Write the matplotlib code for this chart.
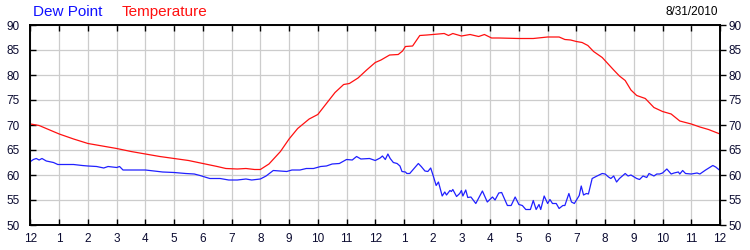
import matplotlib
matplotlib.use("Agg")
import matplotlib.pyplot as plt

temp_hours = [0, 0.3, 1.0, 1.5, 2.0, 2.5, 3.0, 3.5, 4.0, 4.5, 5.0, 5.5, 6.0, 6.5, 6.8, 7.2, 7.5, 7.8, 8.0,
              8.3, 8.7, 9.0, 9.3, 9.7, 10.0, 10.3, 10.6, 10.9, 11.1, 11.4, 11.7, 12.0, 12.2, 12.5, 12.8,
              12.95, 13.05, 13.3, 13.55, 13.8, 14.0, 14.4, 14.55, 14.7, 15.0, 15.3, 15.6, 15.8, 16.05,
              16.3, 17.0, 17.5, 18.0, 18.4, 18.6, 18.8, 19.0, 19.2, 19.4, 19.6, 19.9, 20.3, 20.5, 20.7,
              20.9, 21.1, 21.4, 21.7, 22.0, 22.3, 22.6, 23.0, 23.3, 23.6, 24.0]
temp_vals = [70.2, 69.9, 68.2, 67.2, 66.3, 65.8, 65.3, 64.7, 64.2, 63.7, 63.3, 62.9, 62.3, 61.7, 61.3, 61.2,
             61.3, 61.1, 61.1, 62.2, 64.7, 67.2, 69.3, 71.2, 72.1, 74.3, 76.5, 78.1, 78.3, 79.4, 81.0,
             82.5, 83.0, 84.0, 84.1, 84.8, 85.7, 85.8, 87.9, 88.0, 88.1, 88.3, 87.9, 88.3, 87.8, 88.1,
             87.7, 88.1, 87.4, 87.4, 87.3, 87.3, 87.6, 87.6, 87.1, 87.0, 86.7, 86.5, 85.9, 84.7, 83.5,
             81.0, 79.8, 78.9, 77.0, 75.9, 75.3, 73.5, 72.7, 72.2, 70.8, 70.2, 69.6, 69.1, 68.2]

dew_hours = [0.0, 0.1, 0.2, 0.3, 0.4, 0.55, 0.8, 0.95, 1.5, 1.8, 2.0, 2.3, 2.55, 2.7, 3.0, 3.1, 3.22, 3.6,
             4.0, 4.3, 4.6, 5.0, 5.4, 5.7, 5.9, 6.24, 6.6, 6.9, 7.2, 7.5, 7.7, 8.0, 8.2, 8.45, 8.7, 8.92,
             9.1, 9.38, 9.6, 9.85, 10.1, 10.3, 10.5, 10.75, 11.0, 11.2, 11.35, 11.5, 11.8, 12.0, 12.17,
             12.25, 12.35, 12.44, 12.52, 12.63, 12.76, 12.86, 12.93, 13.05, 13.1, 13.2, 13.5, 13.6,
             13.73, 13.83, 13.93, 14.02, 14.12, 14.2, 14.33, 14.42, 14.48, 14.6, 14.65, 14.7, 14.83,
             14.94, 15.0, 15.05, 15.15, 15.22, 15.33, 15.5, 15.73, 15.9, 16.08, 16.17, 16.3, 16.4,
             16.6, 16.73, 16.87, 17.0, 17.12, 17.24, 17.4, 17.5, 17.6, 17.7, 17.76, 17.88, 18.0,
             18.08, 18.17, 18.3, 18.4, 18.53, 18.6, 18.74, 18.83, 18.93, 19.1, 19.17, 19.25, 19.35,
             19.42, 19.55, 19.72, 19.9, 20.0, 20.12, 20.2, 20.3, 20.4, 20.5, 20.7, 20.8, 20.9, 21.1,
             21.2, 21.32, 21.45, 21.53, 21.7, 21.8, 21.9, 22.0, 22.15, 22.3, 22.4, 22.55, 22.6, 22.7,
             22.8, 23.0, 23.2, 23.3, 23.5, 23.75, 23.85, 24.0]
dew_vals = [62.7, 63.1, 63.3, 63.0, 63.3, 62.8, 62.5, 62.1, 62.1, 61.9, 61.8, 61.7, 61.4, 61.7, 61.5, 61.7,
            61.0, 61.0, 61.0, 60.8, 60.6, 60.5, 60.3, 60.2, 59.9, 59.3, 59.3, 59.0, 59.0, 59.2, 59.0,
            59.2, 59.8, 60.9, 60.8, 60.7, 61.0, 61.0, 61.3, 61.3, 61.7, 61.8, 62.2, 62.3, 63.1, 63.0,
            63.7, 63.2, 63.3, 62.9, 63.4, 63.8, 63.1, 64.2, 63.3, 62.5, 62.3, 61.8, 60.7, 60.6, 60.3,
            60.3, 62.3, 61.7, 60.8, 60.7, 61.4, 59.8, 57.9, 58.6, 55.8, 56.6, 56.0, 56.9, 56.7, 57.1,
            55.7, 56.3, 56.9, 55.8, 57.0, 55.5, 55.6, 54.3, 56.8, 54.6, 55.6, 55.0, 56.4, 56.5, 53.9,
            53.9, 55.6, 54.1, 53.9, 53.1, 53.1, 54.9, 53.1, 54.1, 53.1, 55.8, 54.3, 55.1, 54.3, 54.3,
            53.3, 53.9, 53.9, 56.3, 54.6, 54.3, 55.9, 57.8, 56.0, 56.3, 56.2, 59.3, 59.8, 60.3, 60.2,
            59.6, 59.3, 59.8, 58.6, 59.3, 60.3, 59.8, 60.0, 59.3, 59.1, 59.8, 59.5, 60.3, 59.8, 60.2,
            60.2, 60.4, 61.2, 60.2, 60.4, 60.6, 60.2, 60.9, 60.3, 60.2, 60.4, 60.2, 61.0, 61.9, 61.6,
            60.9]

x_ticks = list(range(25))
x_labels = ["12", "1", "2", "3", "4", "5", "6", "7", "8", "9", "10", "11",
            "12", "1", "2", "3", "4", "5", "6", "7", "8", "9", "10", "11", "12"]
y_ticks = [50, 55, 60, 65, 70, 75, 80, 85, 90]
date_text = "8/31/2010"

plt.rcParams['font.family'] = ['Liberation Sans', 'DejaVu Sans']
label_color = '#0a0a30'

fig = plt.figure(figsize=(7.5, 2.5), dpi=100)
ax = fig.add_axes([30.5 / 750, 25 / 250, (720 - 30.5) / 750, 200 / 250])

ax.plot(temp_hours, temp_vals, color='#ff1010', lw=0.9)
ax.plot(dew_hours, dew_vals, color='#2020ff', lw=0.9)

ax.set_xlim(0, 24)
ax.set_ylim(50, 90)
ax.set_xticks(x_ticks)
ax.set_xticklabels(x_labels)
ax.set_yticks(y_ticks)
ax.grid(True, color='#cccccc', lw=0.9)
ax.set_axisbelow(True)

for s in ax.spines.values():
    s.set_linewidth(1.4)
    s.set_color('black')

ax.tick_params(axis='x', direction='in', length=4, width=1, top=True, bottom=True,
               labelsize=8.5, labelcolor=label_color, pad=6)
ax.tick_params(axis='y', which='both', direction='in', length=4, width=1, left=True,
               right=False, labelsize=8.5, labelcolor=label_color, pad=8)

ax2 = ax.twinx()
ax2.set_ylim(50, 90)
ax2.set_yticks(y_ticks)
ax2.tick_params(axis='y', direction='out', length=4, width=1, labelsize=8.5,
                labelcolor=label_color, pad=2)
for s in ax2.spines.values():
    s.set_visible(False)

fig.text(33 / 750, 1 - 12 / 250, "Dew Point", color='#1010ff', fontsize=11, va='center', ha='left')
fig.text(122 / 750, 1 - 12 / 250, "Temperature", color='#ff1010', fontsize=11, va='center', ha='left')
fig.text(718 / 750, 1 - 12 / 250, date_text, color='black', fontsize=8.5, va='center', ha='right')

fig.savefig("out.png", dpi=100)
